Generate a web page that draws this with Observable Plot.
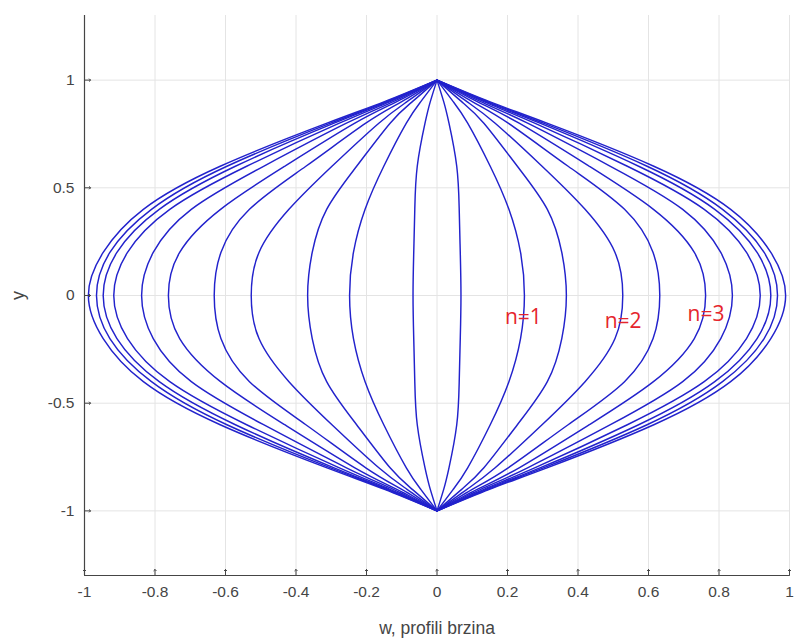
<!DOCTYPE html>
<html>
<head>
<meta charset="utf-8">
<script src="https://cdn.jsdelivr.net/npm/d3@7"></script>
<script src="https://cdn.jsdelivr.net/npm/@observablehq/plot@0.6"></script>
<style>
  html, body { margin: 0; padding: 0; background: #fff; }
  #chart { width: 794px; height: 639px; }
</style>
</head>
<body>
<div id="chart"></div>
<script>
// Half-profile levels (|y|) at which the velocity profiles were read
const yLevels = [0, 0.2, 0.4, 0.6, 0.8, 0.9, 1];
// w of each of the 11 profiles (innermost to outermost) at each |y| level
const wAtY00 = [0.068, 0.248, 0.367, 0.527, 0.632, 0.762, 0.838, 0.917, 0.947, 0.966, 0.989];
const wAtY02 = [0.066, 0.237, 0.354, 0.505, 0.613, 0.730, 0.805, 0.878, 0.908, 0.928, 0.947];
const wAtY04 = [0.063, 0.204, 0.313, 0.420, 0.532, 0.614, 0.697, 0.758, 0.788, 0.810, 0.833];
const wAtY06 = [0.056, 0.151, 0.228, 0.298, 0.372, 0.432, 0.492, 0.540, 0.572, 0.596, 0.615];
const wAtY08 = [0.034, 0.087, 0.133, 0.165, 0.202, 0.233, 0.257, 0.277, 0.292, 0.302, 0.312];
const wAtY09 = [0.019, 0.046, 0.070, 0.085, 0.100, 0.114, 0.124, 0.133, 0.139, 0.144, 0.149];
const wAtY10 = [0, 0, 0, 0, 0, 0, 0, 0, 0, 0, 0];
const profileTable = [wAtY00, wAtY02, wAtY04, wAtY06, wAtY08, wAtY09, wAtY10];

const xTicks = [-1, -0.8, -0.6, -0.4, -0.2, 0, 0.2, 0.4, 0.6, 0.8, 1];
const yTicks = [-1, -0.5, 0, 0.5, 1];
const labels = [
  {text: "n=1", w: 0.245, y: -0.10},
  {text: "n=2", w: 0.528, y: -0.118},
  {text: "n=3", w: 0.763, y: -0.085}
];

// Build full profiles (both walls, both directions) from the read values
const rows = [];
wAtY00.forEach((_, i) => {
  for (const side of [1, -1]) {
    const id = `${side}-${i}`;
    for (let k = yLevels.length - 1; k >= 1; k--) rows.push({id, w: side * profileTable[k][i], y: -yLevels[k]});
    for (let k = 0; k < yLevels.length; k++) rows.push({id, w: side * profileTable[k][i], y: yLevels[k]});
  }
});

const fmt = d => String(+d.toFixed(1));
const axisColor = "#454545";

const chart = Plot.plot({
  width: 794,
  height: 639,
  marginLeft: 84,
  marginRight: 5,
  marginTop: 15,
  marginBottom: 64,
  style: {fontFamily: "'Liberation Sans', Arial, sans-serif", fontSize: "15px", color: axisColor, background: "#fff"},
  x: {domain: [-1, 1]},
  y: {domain: [-1.3, 1.3]},
  marks: [
    Plot.ruleX(xTicks, {stroke: "#e4e4e4", strokeWidth: 1}),
    Plot.ruleY(yTicks, {stroke: "#e4e4e4", strokeWidth: 1}),
    Plot.line(rows, {x: "w", y: "y", z: "id", stroke: "#2222cc", strokeWidth: 1.45, curve: "natural"}),
    Plot.ruleX([-1], {stroke: axisColor, strokeWidth: 1.2}),
    Plot.ruleY([-1.3], {stroke: axisColor, strokeWidth: 1.2}),
    Plot.vector(xTicks, {x: d => d, y: -1.3, length: 6, rotate: 0, anchor: "start", stroke: axisColor, strokeWidth: 1}),
    Plot.vector(yTicks, {x: -1, y: d => d, length: 6, rotate: 90, anchor: "start", stroke: axisColor, strokeWidth: 1}),
    Plot.axisX(xTicks, {tickSize: 0, tickPadding: 10, tickFormat: fmt, label: null, fontSize: 15.5, color: axisColor}),
    Plot.axisY(yTicks, {tickSize: 0, tickPadding: 10, tickFormat: fmt, label: null, fontSize: 15.5, color: axisColor}),
    Plot.text(["w, profili brzina"], {x: 0, y: -1.3, dy: 53, text: d => d, fontSize: 17.5, fill: axisColor}),
    Plot.text(["y"], {x: -1, y: 0, dx: -66, rotate: -90, text: d => d, fontSize: 18, fill: axisColor}),
    Plot.text(labels, {x: "w", y: "y", text: "text", fill: "#e5252c", fontSize: 21, fontFamily: "'Open Sans', sans-serif"})
  ]
});
document.getElementById("chart").appendChild(chart);
</script>
</body>
</html>
